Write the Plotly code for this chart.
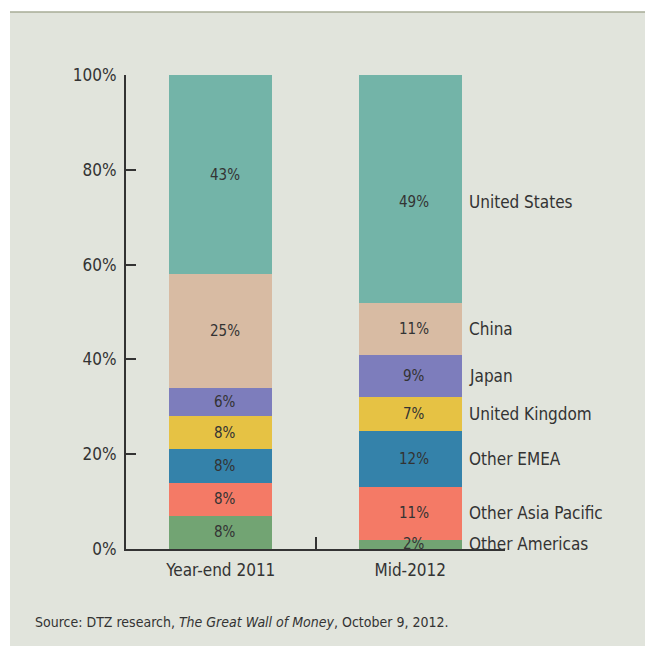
import plotly.graph_objects as go

# ---- data ----
categories = ["Year-end 2011", "Mid-2012"]
regions = ["Other Americas", "Other Asia Pacific", "Other EMEA", "United Kingdom",
           "Japan", "China", "United States"]
yearend_share = [7, 7, 7, 7, 6, 24, 42]
mid_share = [2, 11, 12, 7, 9, 11, 48]
yearend_labels = ["8%", "8%", "8%", "8%", "6%", "25%", "43%"]
mid_labels = ["2%", "11%", "12%", "7%", "9%", "11%", "49%"]
y_tickvals = [0, 20, 40, 60, 80, 100]
y_ticktext = ["0%", "20%", "40%", "60%", "80%", "100%"]

colors = ["#72a473", "#f47a66", "#3482aa", "#e6c244", "#7d7dbc", "#d8bba3", "#73b4a8"]
label_nudge = {"United States": -2.7}

FONT = "Liberation Sans Narrow, DejaVu Sans Condensed, Arial Narrow, sans-serif"
TXT = "#333333"
PANEL = "#e1e4dc"

OFF = 8  # page body margin
PAGE_W, PAGE_H = 653, 646
W, H = PAGE_W - OFF, PAGE_H - OFF
L, R, T = 126 - OFF, 148, 75 - OFF
B = OFF + H - 549
pw, ph = W - L - R, H - T - B


def px_to_paper(px, py):
    """page pixel -> paper coordinates"""
    return (px - OFF - L) / pw, (H - B - (py - OFF)) / ph


fig = go.Figure()
for i, reg in enumerate(regions):
    fig.add_trace(go.Bar(
        x=categories, y=[yearend_share[i], mid_share[i]], name=reg,
        marker=dict(color=colors[i], line=dict(width=0)),
        showlegend=False, hoverinfo="skip",
    ))

annotations = []
cum_a, cum_b = 0, 0
for i, reg in enumerate(regions):
    ca = cum_a + yearend_share[i] / 2
    cb = cum_b + mid_share[i] / 2 + label_nudge.get(reg, 0)
    cum_a += yearend_share[i]
    cum_b += mid_share[i]
    annotations.append(dict(x=categories[0], y=ca, xref="x", yref="y", text=yearend_labels[i],
                            showarrow=False, font=dict(family=FONT, size=15, color=TXT),
                            xshift=4))
    annotations.append(dict(x=categories[1], y=cb, xref="x", yref="y", text=mid_labels[i],
                            showarrow=False, font=dict(family=FONT, size=15, color=TXT),
                            xshift=4))
    xp, _ = px_to_paper(467, 0)
    annotations.append(dict(x=xp, y=cb, xref="paper", yref="y", text=reg,
                            showarrow=False, xanchor="left",
                            font=dict(family=FONT, size=17, color=TXT)))

sx, sy = px_to_paper(33, 622)
annotations.append(dict(x=sx, y=sy, xref="paper", yref="paper", xanchor="left", yanchor="middle",
                        showarrow=False,
                        text="Source: DTZ research, <i>The Great Wall of Money</i>, October 9, 2012.",
                        font=dict(family=FONT, size=14, color=TXT)))

x0p, y0p = px_to_paper(0, 0)
x_left, y_top = px_to_paper(10, 12)
x_right, y_bot = px_to_paper(PAGE_W, OFF + H)
shapes = [
    dict(type="rect", xref="paper", yref="paper", x0=x0p, x1=x_right,
         y0=y_top, y1=y0p, fillcolor="white", line=dict(width=0), layer="above"),
    dict(type="rect", xref="paper", yref="paper", x0=x0p, x1=x_left,
         y0=y_bot, y1=y0p, fillcolor="white", line=dict(width=0), layer="above"),
    dict(type="line", xref="paper", yref="paper", x0=x_left, x1=x_right, y0=y_top, y1=y_top,
         line=dict(color="#a7ad97", width=1.5)),
]

fig.update_layout(
    width=W, height=H,
    margin=dict(l=L, r=R, t=T, b=B, autoexpand=False),
    paper_bgcolor=PANEL, plot_bgcolor="rgba(0,0,0,0)",
    barmode="stack", bargap=0.456,
    annotations=annotations, shapes=shapes,
    xaxis=dict(range=[-0.5, 1.5], showline=True, linecolor="#333333", linewidth=2,
               ticks="inside", tickson="boundaries", ticklen=12, tickwidth=1.5,
               tickcolor="#333333", showgrid=False, ticklabelstandoff=5,
               tickfont=dict(family=FONT, size=17, color=TXT)),
    yaxis=dict(range=[0, 100], tickvals=y_tickvals, ticktext=y_ticktext,
               showline=True, linecolor="#333333", linewidth=2,
               ticks="inside", ticklen=10, tickwidth=1.5, tickcolor="#333333",
               showgrid=False, zeroline=False, ticklabelstandoff=4,
               tickfont=dict(family=FONT, size=17, color=TXT)),
)

fig.write_html("out.html")
